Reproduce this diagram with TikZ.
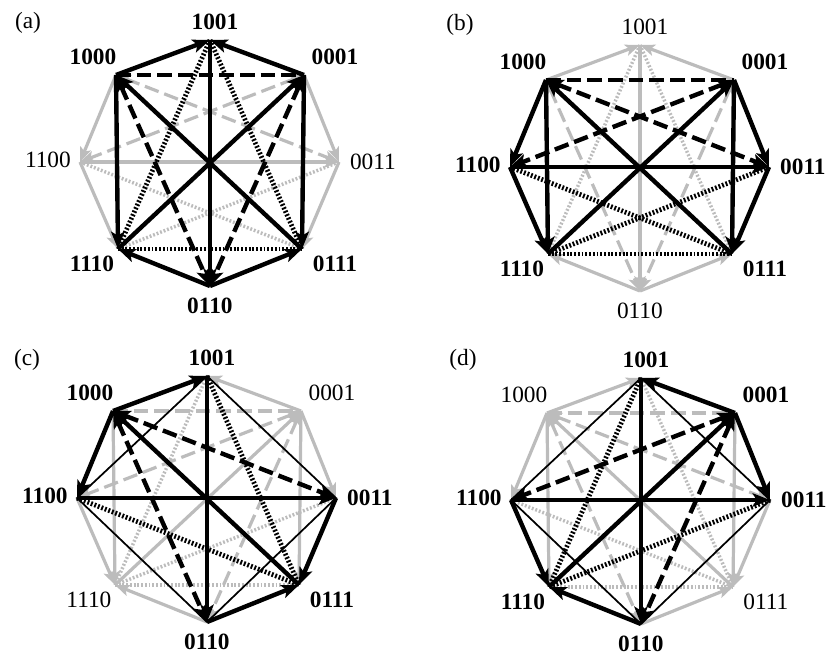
\documentclass[tikz,border=0pt]{standalone}
\usepackage{fontspec}
\setmainfont{Liberation Serif}
\usetikzlibrary{arrows.meta}
\definecolor{lgray}{RGB}{188,188,188}
\tikzset{
 bk/.style={black, line width=3.3pt},
 gy/.style={lgray, line width=2.4pt},
 tn/.style={black, line width=1.3pt},
 dsh/.style={dash pattern=on 11pt off 4.5pt},
 dtt/.style={dash pattern=on 1.4pt off 1.4pt, line width=3.6pt},
 gdtt/.style={dash pattern=on 1.4pt off 1.4pt, line width=2.6pt},
 ar/.style={-{Stealth[length=13pt,width=10pt,inset=3pt]}},
 ar2/.style={{Stealth[length=13pt,width=10pt,inset=3pt]}-{Stealth[length=13pt,width=10pt,inset=3pt]}},
 gar/.style={-{Stealth[length=11pt,width=8.5pt,inset=2.5pt]}},
 gar2/.style={{Stealth[length=11pt,width=8.5pt,inset=2.5pt]}-{Stealth[length=11pt,width=8.5pt,inset=2.5pt]}},
 lab/.style={inner sep=0pt, font=\fontsize{17.5}{19}\selectfont},
}
\newcommand\Verts[1]{%
 \coordinate (#1T) at (0,-122);
 \coordinate (#1TR) at (94,-87);
 \coordinate (#1R) at (129,0);
 \coordinate (#1BR) at (92,87);
 \coordinate (#1B) at (0,124);
 \coordinate (#1BL) at (-92,87);
 \coordinate (#1L) at (-130,0);
 \coordinate (#1TL) at (-94,-87);}
\newcommand\Labs[9]{%
 \node[lab] (#1lT) at (2,-140) {#2 1001};
 \node[lab] (#1lTR) at (122,-105) {#3 0001};
 \node[lab] (#1lR) at (160,0) {#4 0011};
 \node[lab] (#1lBR) at (122,102) {#5 0111};
 \node[lab] (#1lB) at (-3,144) {#6 0110};
 \node[lab] (#1lBL) at (-121,102) {#7 1110};
 \node[lab] (#1lL) at (-165,-2) {#8 1100};
 \node[lab] (#1lTL) at (-120,-105) {#9 1000};}
\begin{document}
\begin{tikzpicture}[x=0.75pt,y=-0.75pt]
\useasboundingbox (0,0) rectangle (826,655);
\node[lab] (pa) at (28,23) {(a)};
\node[lab] (pb) at (460,25) {(b)};
\node[lab] (pc) at (27,360) {(c)};
\node[lab] (pd) at (463,360) {(d)};
% ---------------- (a)
\begin{scope}[shift={(210,162)}]
\Verts{a}
\draw[gy,gar] (aTL)--(aL);
\draw[gy,gar] (aTR)--(aR);
\draw[gy,gar] (aL)--(aBL);
\draw[gy,gar] (aR)--(aBR);
\draw[gy,gar] (aL)--(aR);
\draw[gy,dsh,gar2] (aTL)--(aR);
\draw[gy,dsh,gar2] (aTR)--(aL);
\draw[gy,gdtt] (aL)--(aBR);
\draw[gy,gdtt] (aR)--(aBL);
\draw[bk,ar] (aTL)--(aT);
\draw[bk,ar] (aTR)--(aT);
\draw[bk,ar] (aB)--(aBL);
\draw[bk,ar] (aB)--(aBR);
\draw[bk,ar] (aTL)--(aBL);
\draw[bk,ar] (aTR)--(aBR);
\draw[bk,dsh] (aTL)--(aTR);
\draw[bk,dtt] (aBL)--(aBR);
\draw[bk,ar] (aT)--(aB);
\draw[bk,ar] (aBR)--(aTL);
\draw[bk,ar] (aBL)--(aTR);
\draw[bk,dsh,ar2] (aTL)--(aB);
\draw[bk,dsh,ar2] (aTR)--(aB);
\draw[bk,dtt] (aT)--(aBL);
\draw[bk,dtt] (aT)--(aBR);
\Labs{a}{\bfseries}{\bfseries}{\mdseries}{\bfseries}{\bfseries}{\bfseries}{\mdseries}{\bfseries}
\end{scope}
% ---------------- (b)
\begin{scope}[shift={(640,167)}]
\Verts{b}
\draw[gy,gar] (bTL)--(bT);
\draw[gy,gar] (bTR)--(bT);
\draw[gy,gar] (bB)--(bBL);
\draw[gy,gar] (bB)--(bBR);
\draw[gy,gar] (bT)--(bB);
\draw[gy,dsh,gar2] (bTL)--(bB);
\draw[gy,dsh,gar2] (bTR)--(bB);
\draw[gy,gdtt] (bT)--(bBL);
\draw[gy,gdtt] (bT)--(bBR);
\draw[bk,ar] (bTL)--(bL);
\draw[bk,ar] (bTR)--(bR);
\draw[bk,ar] (bL)--(bBL);
\draw[bk,ar] (bR)--(bBR);
\draw[bk,ar] (bTL)--(bBL);
\draw[bk,ar] (bTR)--(bBR);
\draw[bk,dsh] (bTL)--(bTR);
\draw[bk,dtt] (bBL)--(bBR);
\draw[bk,ar] (bL)--(bR);
\draw[bk,ar] (bBR)--(bTL);
\draw[bk,ar] (bBL)--(bTR);
\draw[bk,dsh,ar2] (bTL)--(bR);
\draw[bk,dsh,ar2] (bTR)--(bL);
\draw[bk,dtt] (bL)--(bBR);
\draw[bk,dtt] (bR)--(bBL);
\Labs{b}{\mdseries}{\bfseries}{\bfseries}{\bfseries}{\mdseries}{\bfseries}{\bfseries}{\bfseries}
\end{scope}
% ---------------- (c)
\begin{scope}[shift={(207,498)}]
\Verts{c}
\draw[gy,gar] (cTR)--(cT);
\draw[gy,gar] (cTR)--(cR);
\draw[gy,gar] (cL)--(cBL);
\draw[gy,gar] (cB)--(cBL);
\draw[gy,gar] (cTL)--(cBL);
\draw[gy,gar] (cTR)--(cBR);
\draw[gy,dsh] (cTL)--(cTR);
\draw[gy,gdtt] (cBL)--(cBR);
\draw[gy,gar] (cBL)--(cTR);
\draw[gy,dsh,gar2] (cTR)--(cL);
\draw[gy,dsh,gar2] (cTR)--(cB);
\draw[gy,gdtt] (cT)--(cBL);
\draw[gy,gdtt] (cR)--(cBL);
\draw[tn] (cT)--(cR)--(cB)--(cL)--cycle;
\draw[bk,ar] (cTL)--(cT);
\draw[bk,ar] (cTL)--(cL);
\draw[bk,ar] (cR)--(cBR);
\draw[bk,ar] (cB)--(cBR);
\draw[bk,ar] (cT)--(cB);
\draw[bk,ar] (cL)--(cR);
\draw[bk,ar] (cBR)--(cTL);
\draw[bk,dsh,ar2] (cTL)--(cR);
\draw[bk,dsh,ar2] (cTL)--(cB);
\draw[bk,dtt] (cT)--(cBR);
\draw[bk,dtt] (cL)--(cBR);
\Labs{c}{\bfseries}{\mdseries}{\bfseries}{\bfseries}{\bfseries}{\mdseries}{\bfseries}{\bfseries}
\end{scope}
% ---------------- (d)
\begin{scope}[shift={(641,500)}]
\Verts{d}
\draw[gy,gar] (dTL)--(dT);
\draw[gy,gar] (dTL)--(dL);
\draw[gy,gar] (dR)--(dBR);
\draw[gy,gar] (dB)--(dBR);
\draw[gy,gar] (dTL)--(dBL);
\draw[gy,gar] (dTR)--(dBR);
\draw[gy,dsh] (dTL)--(dTR);
\draw[gy,gdtt] (dBL)--(dBR);
\draw[gy,gar] (dBR)--(dTL);
\draw[gy,dsh,gar2] (dTL)--(dR);
\draw[gy,dsh,gar2] (dTL)--(dB);
\draw[gy,gdtt] (dT)--(dBR);
\draw[gy,gdtt] (dL)--(dBR);
\draw[tn] (dT)--(dR)--(dB)--(dL)--cycle;
\draw[bk,ar] (dTR)--(dT);
\draw[bk,ar] (dTR)--(dR);
\draw[bk,ar] (dL)--(dBL);
\draw[bk,ar] (dB)--(dBL);
\draw[bk,ar] (dT)--(dB);
\draw[bk,ar] (dL)--(dR);
\draw[bk,ar] (dBL)--(dTR);
\draw[bk,dsh,ar2] (dTR)--(dL);
\draw[bk,dsh,ar2] (dTR)--(dB);
\draw[bk,dtt] (dT)--(dBL);
\draw[bk,dtt] (dR)--(dBL);
\Labs{d}{\bfseries}{\bfseries}{\bfseries}{\mdseries}{\bfseries}{\bfseries}{\bfseries}{\mdseries}
\end{scope}
\end{tikzpicture}
\end{document}
